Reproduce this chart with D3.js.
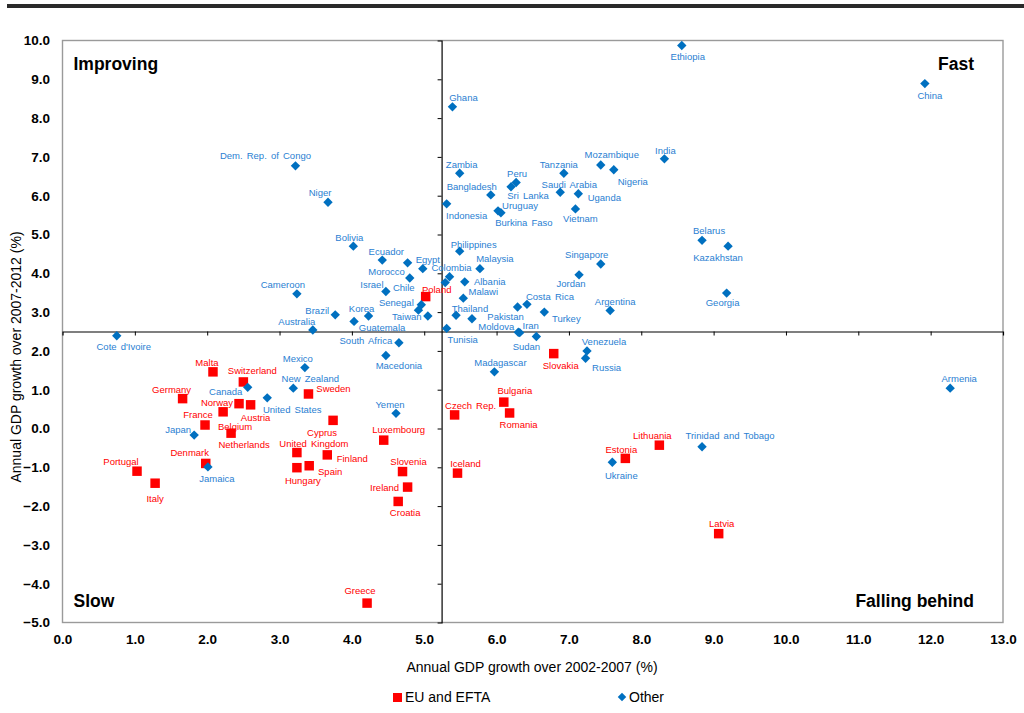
<!DOCTYPE html>
<html><head><meta charset="utf-8">
<script src="https://cdn.jsdelivr.net/npm/d3@7"></script>
<style>body{margin:0;background:#fff}svg{display:block}text{font-family:"Liberation Sans",Arial,sans-serif}</style>
</head><body><svg id="c" width="1024" height="713"></svg>
<script>
// ---- data ----
const xTicks = [0,1,2,3,4,5,6,7,8,9,10,11,12,13];
const yTicks = [-5,-4,-3,-2,-1,0,1,2,3,4,5,6,7,8,9,10];
const xDivider = 5.24;
const yDivider = 2.5;
const xTitle = "Annual GDP growth over 2002-2007 (%)";
const yTitle = "Annual GDP growth over 2007-2012 (%)";
const quadrantNames = ["Improving","Fast","Slow","Falling behind"];
const seriesNames = ["EU and EFTA","Other"];

const euNames = ["Poland","Malta","Switzerland","Germany","Norway","Austria","France","Belgium","Netherlands","Denmark","Portugal","Italy","Sweden","Cyprus","United Kingdom","Hungary","Spain","Finland","Luxembourg","Slovenia","Ireland","Croatia","Greece","Czech Rep.","Bulgaria","Romania","Iceland","Slovakia","Estonia","Lithuania","Latvia"];
const euX = [5.02,2.08,2.50,1.66,2.44,2.60,1.97,2.22,2.33,1.98,1.03,1.28,3.40,3.74,3.24,3.24,3.41,3.66,4.44,4.70,4.77,4.64,4.21,5.42,6.10,6.18,5.46,6.79,7.78,8.25,9.07];
const euY = [3.40,1.46,1.20,0.77,0.64,0.61,0.09,0.43,-0.12,-0.90,-1.10,-1.41,0.89,0.21,-0.62,-1.01,-0.96,-0.68,-0.30,-1.11,-1.51,-1.88,-4.50,0.35,0.68,0.40,-1.15,1.93,-0.77,-0.43,-2.71];

const otherNames = ["Ethiopia","China","Ghana","Zambia","Bangladesh","Peru","Sri Lanka","Indonesia","Uruguay","Burkina Faso","Tanzania","Saudi Arabia","Uganda","Vietnam","Mozambique","Nigeria","India","Belarus","Kazakhstan","Georgia","Dem. Rep. of Congo","Niger","Bolivia","Ecuador","Morocco","Chile","Egypt","Colombia","","Israel","Cameroon","Senegal","","Taiwan","Korea","Guatemala","Brazil","Australia","Tunisia","Philippines","Malaysia","Albania","Malawi","Thailand","","Pakistan","Costa Rica","Turkey","Jordan","Singapore","Argentina","Moldova","Iran","Sudan","South Africa","Macedonia","Yemen","Madagascar","Venezuela","Russia","Ukraine","Trinidad and Tobago","Armenia","Cote d'Ivoire","Canada","United States","Japan","Jamaica","Mexico","New Zealand"];
const otherX = [8.56,11.92,5.39,5.49,5.92,6.27,6.20,5.31,6.02,6.06,6.93,6.88,7.13,7.09,7.44,7.62,8.32,8.84,9.20,9.18,3.22,3.67,4.02,4.42,4.77,4.80,4.98,5.35,5.29,4.47,3.24,4.96,4.92,5.05,4.23,4.03,3.77,3.46,5.31,5.49,5.77,5.56,5.54,5.66,5.44,6.29,6.42,6.66,7.14,7.44,7.57,6.30,6.32,6.55,4.65,4.47,4.61,5.97,7.25,7.23,7.60,8.84,12.27,0.75,2.56,2.83,1.82,2.01,3.35,3.19];
const otherY = [9.87,8.89,8.29,6.58,6.02,6.34,6.23,5.79,5.61,5.56,6.58,6.09,6.05,5.66,6.79,6.67,6.95,4.85,4.70,3.49,6.77,5.83,4.70,4.34,4.27,3.88,4.12,3.91,3.76,3.53,3.47,3.19,3.05,2.90,2.90,2.76,2.93,2.54,2.58,4.57,4.12,3.78,3.36,2.83,2.92,3.13,3.20,3.00,3.96,4.24,3.04,2.48,2.47,2.37,2.21,1.88,0.39,1.46,2.00,1.81,-0.87,-0.47,1.04,2.39,1.06,0.79,-0.17,-0.99,1.57,1.04];

// ---- layout: label offsets in px (label centre relative to marker) ----
const labelOffsets = {
 "Poland":[11,-7],"Malta":[-6,-9],"Switzerland":[9,-11],"Germany":[-11,-9],"Norway":[-22,-1],"Austria":[5,13],
 "France":[-7,-10],"Belgium":[12,15],"Netherlands":[13,12],"Denmark":[-16,-11],"Portugal":[-16,-10],"Italy":[0,15],
 "Sweden":[25,-5],"Cyprus":[-11,12],"United Kingdom":[17,-9],"Hungary":[6,13],"Spain":[21,6],"Finland":[25,4],
 "Luxembourg":[15,-10],"Slovenia":[6,-10],"Ireland":[-23,1],"Croatia":[7,11],"Greece":[-7,-12],"Czech Rep.":[16,-9],
 "Bulgaria":[11,-11],"Romania":[9,12],"Iceland":[8,-9],"Slovakia":[7,12],"Estonia":[-4,-9],"Lithuania":[-7,-10],"Latvia":[3,-10],
 "Ethiopia":[6,11],"China":[5,12],"Ghana":[11,-9],"Zambia":[2,-9],"Bangladesh":[-19,-8],"Peru":[1,-9],"Sri Lanka":[17,9],
 "Indonesia":[20,12],"Uruguay":[22,-5],"Burkina Faso":[23,10],"Tanzania":[-5,-9],"Saudi Arabia":[9,-8],"Uganda":[26,4],
 "Vietnam":[5,10],"Mozambique":[11,-10],"Nigeria":[19,12],"India":[1,-8],"Belarus":[7,-10],"Kazakhstan":[-10,12],"Georgia":[-4,10],
 "Dem. Rep. of Congo":[-30,-10],"Niger":[-8,-10],"Bolivia":[-4,-8],"Ecuador":[4,-8],"Morocco":[-21,9],"Chile":[-6,10],
 "Egypt":[5,-9],"Colombia":[2,-9],"Israel":[-14,-7],"Cameroon":[-14,-9],"Senegal":[-25,-2],"Taiwan":[-21,1],"Korea":[-7,-7],
 "Guatemala":[28,6],"Brazil":[-18,-4],"Australia":[-16,-8],"Tunisia":[16,11],"Philippines":[14,-7],"Malaysia":[15,-10],
 "Albania":[25,0],"Malawi":[20,-6],"Thailand":[-2,-10],"Pakistan":[-12,10],"Costa Rica":[23,-8],"Turkey":[22,7],"Jordan":[-8,9],
 "Singapore":[-14,-9],"Argentina":[5,-9],"Moldova":[-22,-6],"Iran":[11,-7],"Sudan":[-10,10],"South Africa":[-33,-2],
 "Macedonia":[13,10],"Yemen":[-6,-9],"Madagascar":[6,-9],"Venezuela":[17,-9],"Russia":[21,9],"Ukraine":[9,13],
 "Trinidad and Tobago":[28,-11],"Armenia":[9,-9],"Cote d'Ivoire":[7,11],"Canada":[-22,4],"United States":[25,12],
 "Japan":[-16,-5],"Jamaica":[9,12],"Mexico":[-7,-9],"New Zealand":[17,-9]
};

const RED = "#ff0000", BLUE = "#0070c0", BLUE_TXT = "#2a80d2";
const svg = d3.select("#c");
const L = 62.5, R = 1003, T = 40.5, B = 622.5;
const x = d3.scaleLinear().domain([0,13]).range([L,R]);
const y = d3.scaleLinear().domain([-5,10]).range([B,T]);

// top rule
svg.append("rect").attr("x",7).attr("y",4).attr("width",1017).attr("height",4).attr("fill","#2a2a2a");

// plot frame
svg.append("rect").attr("x",L).attr("y",T).attr("width",R-L).attr("height",B-T)
  .attr("fill","none").attr("stroke","#9a9a9a").attr("stroke-width",1.4);

// crossing axes (through dividers) with ticks
const xAxisCross = d3.axisBottom(x).tickValues(xTicks.slice(1,-1)).tickSize(4).tickFormat("");
svg.append("g").attr("transform",`translate(0,${y(yDivider)})`).call(xAxisCross)
  .call(g=>g.select(".domain").attr("stroke","#000").attr("stroke-width",1.2))
  .call(g=>g.selectAll(".tick line").attr("stroke","#000"));
const yAxisCross = d3.axisLeft(y).tickValues(yTicks.slice(1,-1)).tickSize(4).tickFormat("");
svg.append("g").attr("transform",`translate(${x(xDivider)},0)`).call(yAxisCross)
  .call(g=>g.select(".domain").attr("stroke","#000").attr("stroke-width",1.2))
  .call(g=>g.selectAll(".tick line").attr("stroke","#000"));

// tick labels (low position)
const xLab = d3.axisBottom(x).tickValues(xTicks).tickSize(0).tickPadding(0).tickFormat(d3.format(".1f"));
svg.append("g").attr("transform",`translate(0,${B+12})`).call(xLab)
  .call(g=>g.select(".domain").remove())
  .call(g=>g.selectAll("text").attr("font-size",13.5).attr("font-weight","bold").attr("fill","#000")
     .attr("font-family","Liberation Sans, Arial, sans-serif"));
const yLab = d3.axisLeft(y).tickValues(yTicks).tickSize(0).tickPadding(0).tickFormat(d3.format(".1f"));
svg.append("g").attr("transform",`translate(50,0)`).call(yLab)
  .call(g=>g.select(".domain").remove())
  .call(g=>g.selectAll("text").attr("font-size",13.5).attr("font-weight","bold").attr("fill","#000")
     .attr("font-family","Liberation Sans, Arial, sans-serif"));

// axis titles
svg.append("text").attr("x",532).attr("y",667).attr("text-anchor","middle").attr("dy","0.35em")
  .attr("font-size",14).attr("fill","#000").text(xTitle);
svg.append("text").attr("transform","translate(16,357) rotate(-90)").attr("text-anchor","middle").attr("dy","0.35em")
  .attr("font-size",14).attr("fill","#000").text(yTitle);

// quadrant labels
const qPos = [[x(0)+11, y(9.4), "start"],[x(13)-29, y(9.4), "end"],[x(0)+11, y(-4.45), "start"],[x(13)-29, y(-4.45), "end"]];
quadrantNames.forEach((q,i)=>{
  svg.append("text").attr("x",qPos[i][0]).attr("y",qPos[i][1]).attr("dy","0.35em").attr("text-anchor",qPos[i][2])
    .attr("font-size",17.5).attr("font-weight","bold").attr("fill","#000").text(q);
});

// data
const eu = euNames.map((n,i)=>({name:n,x:euX[i],y:euY[i]}));
const other = otherNames.map((n,i)=>({name:n,x:otherX[i],y:otherY[i]}));
const sq = d3.symbol().type(d3.symbolSquare).size(90)();
const dia = d3.symbol().type(d3.symbolSquare).size(44)();

svg.append("g").selectAll("path").data(eu).join("path")
  .attr("d",sq).attr("fill",RED).attr("transform",d=>`translate(${x(d.x)},${y(d.y)})`);
svg.append("g").selectAll("path").data(other).join("path")
  .attr("d",dia).attr("fill",BLUE).attr("transform",d=>`translate(${x(d.x)},${y(d.y)}) rotate(45)`);

function labels(data,color){
  svg.append("g").selectAll("text").data(data.filter(d=>d.name && labelOffsets[d.name])).join("text")
    .attr("x",d=>x(d.x)+labelOffsets[d.name][0]).attr("y",d=>y(d.y)+labelOffsets[d.name][1])
    .attr("dy","0.35em").attr("text-anchor","middle").attr("font-size",9.5).attr("word-spacing",1.5)
    .attr("fill",color).text(d=>d.name);
}
labels(other,BLUE_TXT);
labels(eu,RED);

// legend
svg.append("path").attr("d",d3.symbol().type(d3.symbolSquare).size(81)()).attr("fill",RED)
  .attr("transform","translate(397.5,697.5)");
svg.append("text").attr("x",405).attr("y",697.5).attr("dy","0.35em").attr("font-size",14).attr("fill","#000").text(seriesNames[0]);
svg.append("path").attr("d",d3.symbol().type(d3.symbolSquare).size(36)()).attr("fill",BLUE)
  .attr("transform","translate(622,697) rotate(45)");
svg.append("text").attr("x",629).attr("y",697.5).attr("dy","0.35em").attr("font-size",14).attr("fill","#000").text(seriesNames[1]);
</script></body></html>
